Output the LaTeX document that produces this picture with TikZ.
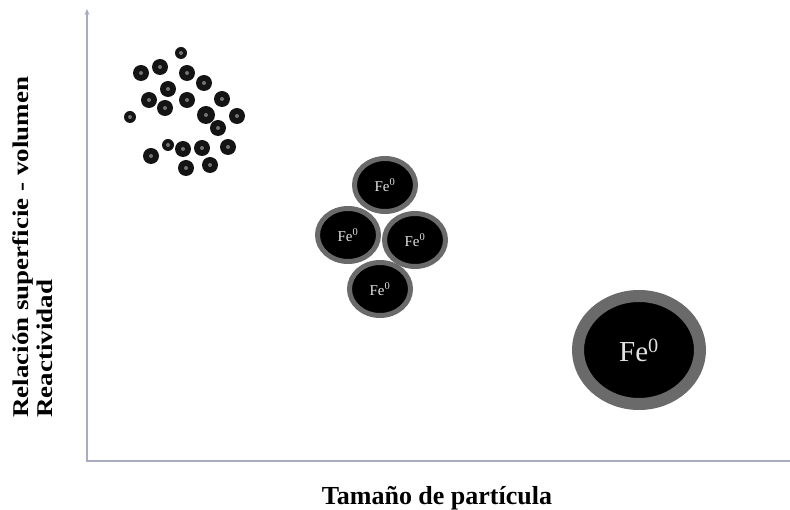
\documentclass[tikz,border=0pt]{standalone}
\usepackage{fontspec}
\setmainfont{Liberation Serif}
\newfontfamily\axisfont[FakeStretch=1.2]{Liberation Serif}
\usetikzlibrary{shapes.geometric,arrows.meta}
\definecolor{axisgray}{HTML}{A8ACC2}
\definecolor{ringgray}{HTML}{6A6A6A}
\definecolor{fewhite}{HTML}{E2E2E2}
\begin{document}
\begin{tikzpicture}[x=1pt,y=-1pt,
	particle/.style={ellipse,fill=black,draw=ringgray,text=fewhite,inner sep=0pt},
	midpart/.style={particle,line width=5pt,minimum width=61pt,minimum height=53pt,font=\fontsize{15}{15}\selectfont},
	bigpart/.style={particle,line width=12pt,minimum width=122pt,minimum height=108pt,font=\fontsize{29}{29}\selectfont},
	dot/.style={circle,fill=black!92,inner sep=0pt}]
	\useasboundingbox (0,0) rectangle (790,510);
	% axes
	\coordinate (O) at (87,461);
	\coordinate (Ytop) at (87,9);
	\coordinate (Xend) at (790,461);
	\draw [axisgray,line width=1.6pt,-{Stealth[length=6pt,width=5pt]}] (Xend)--(O)--(Ytop);
	\node [rotate=90,anchor=north west,align=left,inner sep=0pt,
		font=\axisfont\bfseries\fontsize{22.5}{24}\selectfont] (ylabel) at (12,418)
		{Relación superficie - volumen\\Reactividad};
	\node [anchor=base,font=\bfseries\fontsize{26}{26}\selectfont] (xlabel) at (437,504) {Tamaño de partícula};
	% small particles
	\foreach \x/\y/\r [count=\i] in {181/53/6,141/73/8,160/67/8,187/73/8,204/83/8,168/89/8,149/100/8,
		187/100/8,222/99/8,165/108/8,206/115/9,237/116/8,130/117/6,218/128/8,168/145/6,
		151/156/8,183/149/8,202/148/8,228/147/8,186/168/8,210/165/8}
	{
		\node [dot,minimum size=2*\r] (d\i) at (\x,\y) {};
		\fill [black!55] (d\i) circle (2);
	}
	% medium particles
	\node [midpart] (top) at (385,185) {Fe\textsuperscript{0}};
	\node [midpart] (left) at (348,235) {Fe\textsuperscript{0}};
	\node [midpart] (right) at (415,240) {Fe\textsuperscript{0}};
	\node [midpart] (bottom) at (380,289) {Fe\textsuperscript{0}};
	% large particle
	\node [bigpart] (big) at (639,350) {Fe\textsuperscript{0}};
\end{tikzpicture}
\end{document}
